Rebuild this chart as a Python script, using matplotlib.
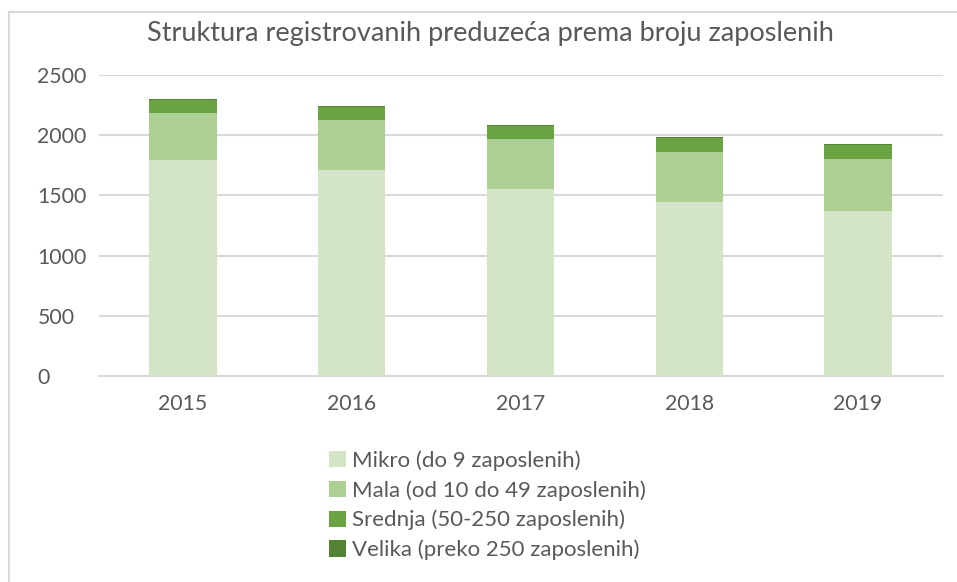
import numpy as np
import matplotlib.pyplot as plt
from matplotlib.lines import Line2D

plt.rcParams['font.family'] = ['Lato', 'DejaVu Sans']

years = ['2015', '2016', '2017', '2018', '2019']
mikro = [1792, 1708, 1550, 1442, 1367]
mala = [391, 417, 417, 416, 433]
srednja = [107, 107, 106, 115, 115]
velika = [10, 10, 10, 10, 10]

labels = ['Mikro (do 9 zaposlenih)', 'Mala (od 10 do 49 zaposlenih)',
          'Srednja (50-250 zaposlenih)', 'Velika (preko 250 zaposlenih)']
colors = ['#d3e5c6', '#aecf94', '#6aa341', '#548235']
text_color = '#595959'
grid_color = '#d9d9d9'

fig = plt.figure(figsize=(9.57, 5.82), dpi=100)
W, H = 957, 582
ax = fig.add_axes([98.5 / W, 1 - 376 / H, (942.5 - 98.5) / W, (376 - 75) / H])

x = np.arange(len(years))
bottom = np.zeros(len(years))
for vals, lab, col in zip([mikro, mala, srednja, velika], labels, colors):
    ax.bar(x, vals, width=0.40, bottom=bottom, color=col, label=lab, zorder=3)
    bottom += np.array(vals)

ax.set_xlim(-0.5, len(years) - 0.5)
ax.set_ylim(0, 2500)
ax.set_yticks(range(0, 2501, 500))
ax.set_xticks(x)
ax.set_xticklabels(years)
ax.grid(axis='y', color=grid_color, linewidth=1.5, zorder=0)
ax.tick_params(length=0, labelsize=15.3, colors=text_color)
ax.tick_params(axis='x', pad=13)
ax.tick_params(axis='y', pad=44)
for lbl in ax.get_yticklabels():
    lbl.set_horizontalalignment('left')
for side in ['top', 'right', 'left']:
    ax.spines[side].set_visible(False)
ax.spines['bottom'].set_color(grid_color)
ax.spines['bottom'].set_linewidth(1.5)

fig.text(490 / W, 1 - 33 / H, 'Struktura registrovanih preduzeća prema broju zaposlenih',
         ha='center', va='center', fontsize=19.5, color=text_color)

handles, labs = ax.get_legend_handles_labels()
leg = fig.legend(handles, labs, loc='upper left', bbox_to_anchor=(329 / W, 1 - 450 / H),
                 frameon=False, fontsize=16, labelcolor=text_color,
                 handlelength=0.75, handleheight=0.75, handletextpad=0.3,
                 labelspacing=0.42, borderaxespad=0, borderpad=0)

# chart frame (only top and left edges visible)
fig.add_artist(Line2D([9 / W, 1], [1 - 12 / H, 1 - 12 / H], color=grid_color, linewidth=1.5))
fig.add_artist(Line2D([9 / W, 9 / W], [0, 1 - 12 / H], color=grid_color, linewidth=1.5))

fig.savefig('out.png', dpi=100)
